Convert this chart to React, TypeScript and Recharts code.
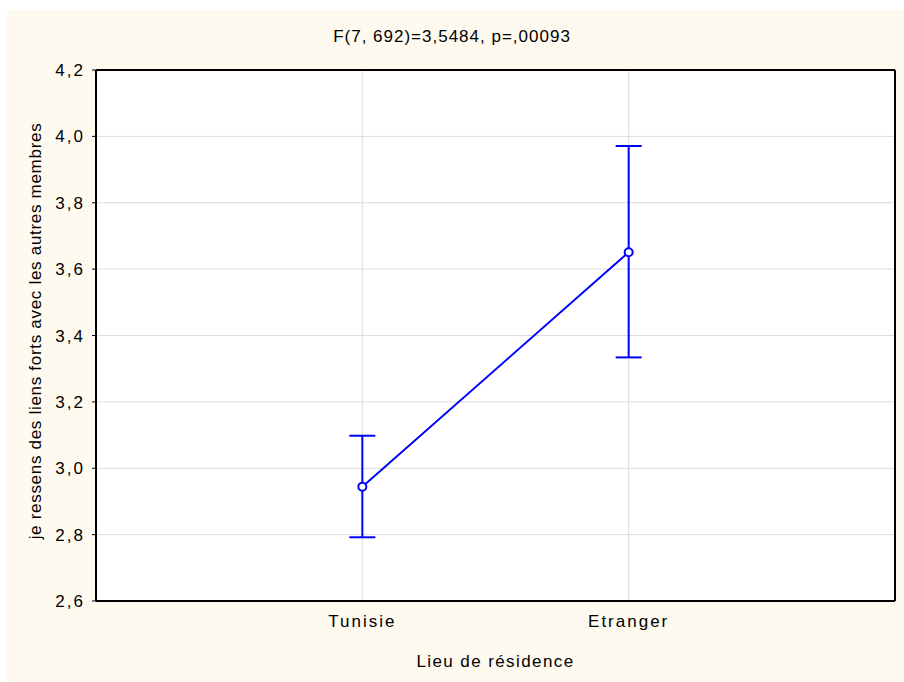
import {
  ComposedChart,
  Line,
  XAxis,
  YAxis,
  CartesianGrid,
  ErrorBar,
  ReferenceLine,
} from 'recharts';

const categories = ['Tunisie', 'Etranger'];
const means = [2.944, 3.651];
const lowers = [2.792, 3.334];
const uppers = [3.098, 3.971];
const yTicks = [2.6, 2.8, 3.0, 3.2, 3.4, 3.6, 3.8, 4.0, 4.2];

const title = 'F(7, 692)=3,5484, p=,00093';
const xTitle = 'Lieu de résidence';
const yTitle = 'je ressens des liens forts avec les autres membres';

const blue = '#0000FF';
const font = '"Liberation Sans", Arial, sans-serif';

const data = categories.map((name, i) => ({
  x: i + 1,
  name,
  mean: means[i],
  err: [means[i] - lowers[i], uppers[i] - means[i]],
}));

export default function App() {
  return (
    <div
      style={{
        position: 'absolute',
        left: 0,
        top: 0,
        width: 904,
        height: 682,
        background: '#fff',
        fontFamily: font,
        overflow: 'hidden',
      }}
    >
      {/* cream frame */}
      <div
        style={{
          position: 'absolute',
          left: 7,
          top: 10,
          width: 897,
          height: 672,
          background: '#FFFAEF',
        }}
      />
      <div style={{ position: 'absolute', left: 0, top: 0 }}>
        <ComposedChart
          width={904}
          height={682}
          data={data}
          margin={{ top: 70, right: 9, bottom: 0, left: 36 }}
        >
          <CartesianGrid stroke="#DCDCDC" fill="#fff" strokeWidth={1} />
          <XAxis
            dataKey="x"
            type="number"
            domain={[0, 3]}
            ticks={[1, 2]}
            tickFormatter={(v: number) => categories[v - 1] ?? ''}
            axisLine={{ stroke: '#000', strokeWidth: 2 }}
            tickLine={false}
            tickMargin={8}
            tick={{ fill: '#000', fontSize: 17, fontFamily: font, letterSpacing: 2 }}
            height={81}
          />
          <YAxis
            type="number"
            domain={[2.6, 4.2]}
            ticks={yTicks}
            tickFormatter={(v: number) => v.toFixed(1).replace('.', ',')}
            axisLine={{ stroke: '#000', strokeWidth: 2 }}
            tickLine={{ stroke: '#000' }}
            tickSize={4}
            tickMargin={7}
            tick={{ fill: '#000', fontSize: 17, fontFamily: font, letterSpacing: 2 }}
            width={60}
          />
          <ReferenceLine y={4.2} stroke="#000" strokeWidth={2} />
          <ReferenceLine x={3} stroke="#000" strokeWidth={2} />
          <Line
            dataKey="mean"
            stroke={blue}
            strokeWidth={2}
            dot={{ r: 4, stroke: blue, strokeWidth: 2, fill: '#fff' }}
            activeDot={false}
            isAnimationActive={false}
          >
            <ErrorBar
              dataKey="err"
              direction="y"
              width={13}
              stroke={blue}
              strokeWidth={2}
              isAnimationActive={false}
            />
          </Line>
        </ComposedChart>
      </div>
      <div
        style={{
          position: 'absolute',
          left: 0,
          top: 27,
          width: 904,
          textAlign: 'center',
          fontSize: 17,
          lineHeight: '20px',
          letterSpacing: 1,
          color: '#000',
        }}
      >
        {title}
      </div>
      <div
        style={{
          position: 'absolute',
          left: 96,
          top: 652,
          width: 799,
          textAlign: 'center',
          fontSize: 17,
          lineHeight: '20px',
          letterSpacing: 1.4,
          color: '#000',
        }}
      >
        {xTitle}
      </div>
      <div
        style={{
          position: 'absolute',
          left: 36 - 300,
          top: 331 - 10,
          width: 600,
          height: 20,
          textAlign: 'center',
          fontSize: 17,
          lineHeight: '20px',
          letterSpacing: 0.7,
          color: '#000',
          transform: 'rotate(-90deg)',
          whiteSpace: 'nowrap',
        }}
      >
        {yTitle}
      </div>
    </div>
  );
}
